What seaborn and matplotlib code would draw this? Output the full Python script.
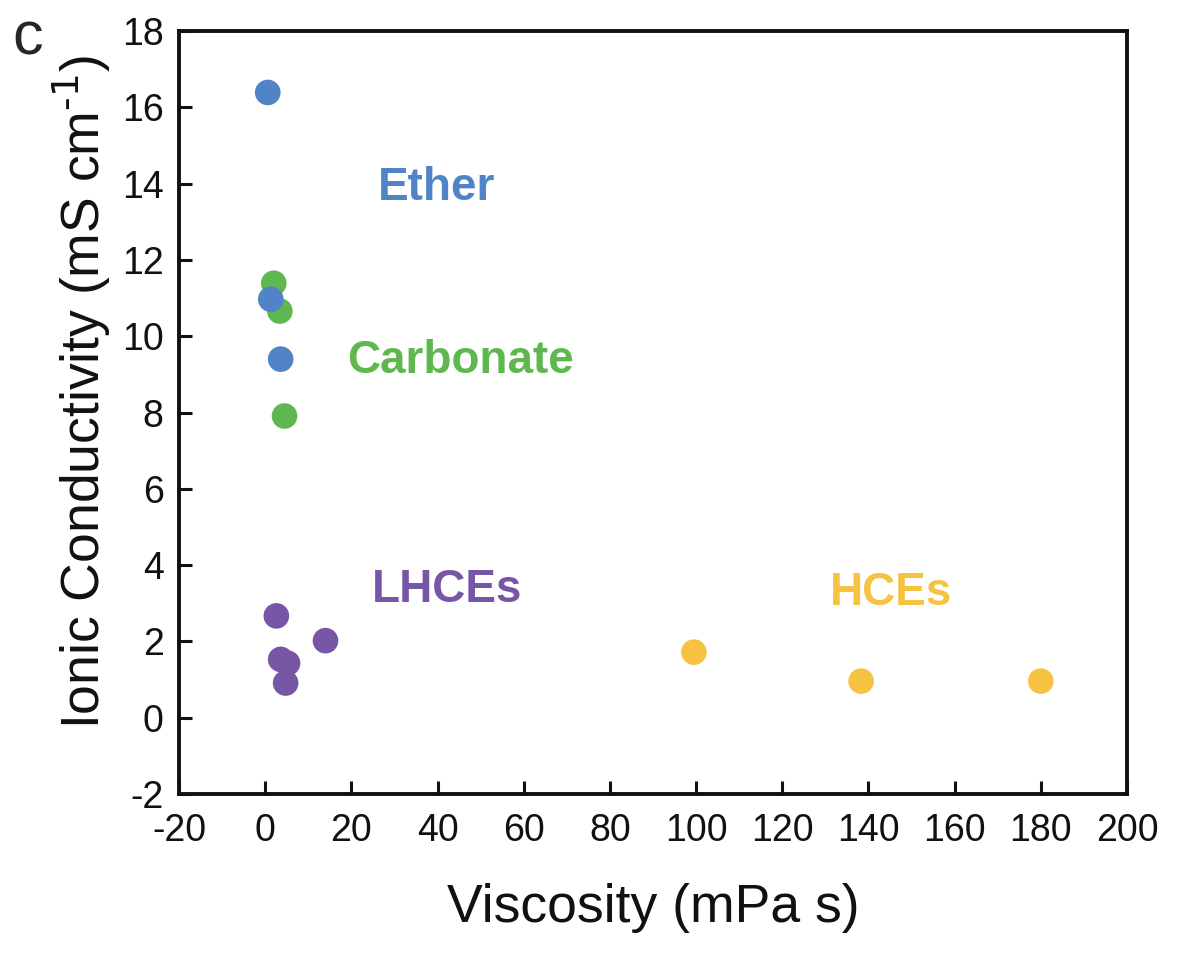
import numpy as np
import pandas as pd
import matplotlib
matplotlib.use("Agg")
import matplotlib.pyplot as plt
import seaborn as sns

# values
carbonate_visc = [2.0, 3.4, 4.5]
carbonate_cond = [11.39, 10.66, 7.91]
ether_visc = [0.6, 1.3, 3.6]
ether_cond = [16.39, 10.97, 9.40]
lhce_visc = [2.6, 14.0, 3.6, 5.2, 4.75]
lhce_cond = [2.67, 2.02, 1.53, 1.43, 0.91]
hce_visc = [99.5, 138.3, 180.0]
hce_cond = [1.72, 0.96, 0.96]

groups = ["Carbonate", "Ether", "LHCEs", "HCEs"]
colors = {"Ether": "#5183C7", "Carbonate": "#5EB84F",
          "LHCEs": "#7856A6", "HCEs": "#F5C242"}

xticks = [-20, 0, 20, 40, 60, 80, 100, 120, 140, 160, 180, 200]
yticks = [-2, 0, 2, 4, 6, 8, 10, 12, 14, 16, 18]

df = pd.DataFrame({
    "visc": carbonate_visc + ether_visc + lhce_visc + hce_visc,
    "cond": carbonate_cond + ether_cond + lhce_cond + hce_cond,
    "group": ["Carbonate"] * 3 + ["Ether"] * 3 + ["LHCEs"] * 5 + ["HCEs"] * 3,
})

sns.set_style("ticks")
plt.rcParams["font.family"] = ["Liberation Sans", "DejaVu Sans"]
plt.rcParams["axes.unicode_minus"] = False

fig = plt.figure(figsize=(12.02, 9.64), dpi=100)
ax = fig.add_axes([0.1489, 0.1763, 0.7887, 0.7915])

sns.scatterplot(data=df, x="visc", y="cond", hue="group", palette=colors,
                s=340, linewidth=0, legend=False, ax=ax)

ax.set_xlim(-20, 200)
ax.set_ylim(-2, 18)
ax.set_xticks(xticks)
ax.set_yticks(yticks)
ax.tick_params(direction="in", length=9.5, width=2.2, labelsize=27,
               colors="#111111", top=False, right=False)
ax.tick_params(axis="x", pad=14)
ax.tick_params(axis="y", pad=11)
for sp in ax.spines.values():
    sp.set_linewidth(2.8)
    sp.set_color("#111111")

ax.set_xlabel("Viscosity (mPa s)", fontsize=38.5, color="#111111")
ax.set_ylabel(r"Ionic Conductivity (mS cm$^{\text{-1}}$)", fontsize=38.5,
              color="#111111")
ax.xaxis.set_label_coords(0.5, -0.1166)
ax.yaxis.set_label_coords(-0.0696, 0.527)

# group labels
ax.text(39.8, 13.57, "Ether", color=colors["Ether"], fontsize=33,
        fontweight="bold", ha="center", va="baseline")
ax.text(45.3, 9.04, "Carbonate", color=colors["Carbonate"], fontsize=33,
        fontweight="bold", ha="center", va="baseline")
ax.text(42.3, 3.03, "LHCEs", color=colors["LHCEs"], fontsize=33,
        fontweight="bold", ha="center", va="baseline")
ax.text(145.3, 2.95, "HCEs", color=colors["HCEs"], fontsize=33,
        fontweight="bold", ha="center", va="baseline")

fig.text(0.0233, 0.943, "c", fontsize=44, ha="center", va="baseline")

plt.savefig("out.png", dpi=100)
plt.close()
